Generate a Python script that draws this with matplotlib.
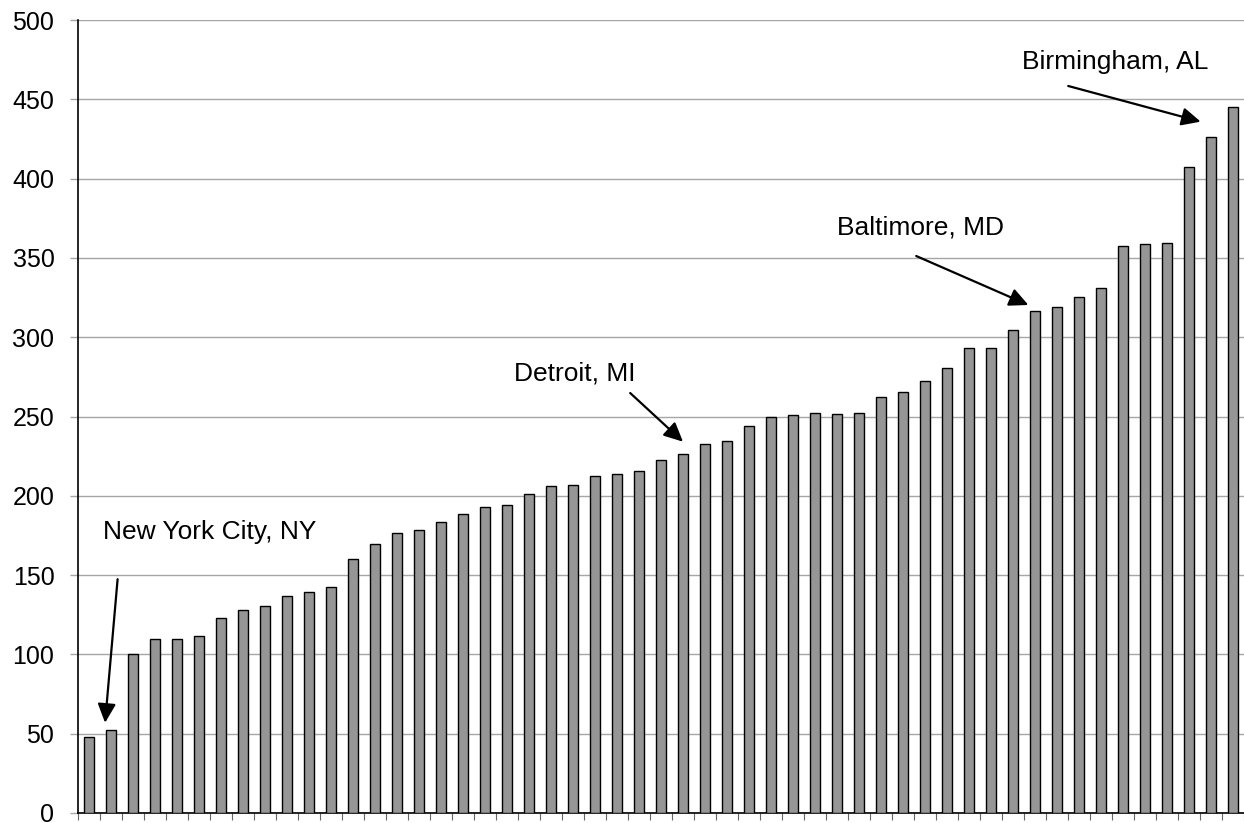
import matplotlib
matplotlib.use("Agg")
import matplotlib.pyplot as plt
import numpy as np

plt.rcParams['font.family'] = ['Liberation Sans', 'DejaVu Sans']

values = [47.7, 52.6, 100.3, 109.6, 109.9, 111.9, 123.2, 128.1, 130.5, 137.1,
          139.4, 142.4, 160.3, 169.9, 176.5, 178.2, 183.3, 188.4, 192.8, 194.3,
          201.0, 205.9, 207.0, 212.2, 213.7, 215.4, 222.8, 226.4, 232.9, 234.8,
          244.1, 249.6, 251.0, 252.0, 251.7, 252.3, 262.3, 265.6, 272.5, 280.8,
          293.0, 293.4, 304.6, 316.6, 318.9, 325.2, 330.8, 357.6, 358.6, 359.3,
          407.0, 426.2, 445.0]
y_ticks = [0, 50, 100, 150, 200, 250, 300, 350, 400, 450, 500]

annotations = [
    # label, text xy (data), arrow start (data), arrow head (data)
    ("New York City, NY", (0.62, 177), (1.30, 147.4), (0.73, 56.9)),
    ("Detroit, MI", (19.3, 277), (24.6, 264.8), (27.0, 234.1)),
    ("Baltimore, MD", (34.0, 369), (37.6, 351.2), (42.7, 320.3)),
    ("Birmingham, AL", (42.4, 473.7), (44.51, 458.4), (50.53, 435.9)),
]

fig = plt.figure(figsize=(12.44, 8.23), dpi=100)
ax = fig.add_axes([78/1244, 1 - 813/823, 1 - 78/1244, (813 - 20)/823])

x = np.arange(len(values))
ax.bar(x, values, width=0.44, color='#969696', edgecolor='black', linewidth=1.0, zorder=3)

ax.set_xlim(-0.5, len(values) - 0.5)
ax.set_ylim(0, 500)
ax.set_yticks(y_ticks)
ax.set_yticklabels([str(v) for v in y_ticks], fontsize=18)
ax.yaxis.grid(True, color='#a6a6a6', linewidth=1.0, zorder=0)
ax.set_axisbelow(True)

ax.set_xticks(np.arange(len(values) + 1) - 0.5)
ax.set_xticklabels([])
ax.tick_params(axis='x', direction='out', length=5, width=0.8, color='#666666')
ax.tick_params(axis='y', direction='out', length=6, width=1.0, color='#a6a6a6', pad=11)

for side in ['top', 'right']:
    ax.spines[side].set_visible(False)
ax.spines['left'].set_color('black')
ax.spines['left'].set_linewidth(1.2)
ax.spines['bottom'].set_color('black')
ax.spines['bottom'].set_linewidth(1.2)

for label, txy, start, head in annotations:
    ax.text(txy[0], txy[1], label, fontsize=19, ha='left', va='center', zorder=5)
    ax.annotate('', xy=head, xytext=start,
                arrowprops=dict(arrowstyle='-|>,head_length=1.15,head_width=0.55',
                                color='black', lw=1.6, shrinkA=0, shrinkB=0),
                zorder=5)

fig.savefig('out.png', dpi=100)
